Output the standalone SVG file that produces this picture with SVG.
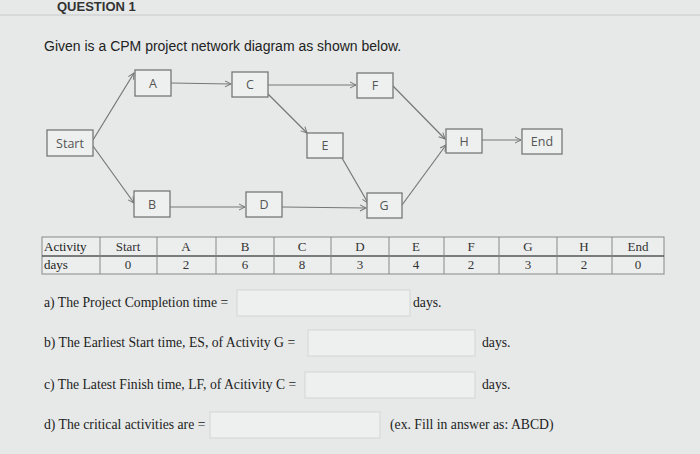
<svg xmlns="http://www.w3.org/2000/svg" width="700" height="454" viewBox="0 0 700 454">
<defs>
<style>
.n rect{fill:#eef0ef;stroke:#777;stroke-width:1.3}
.n text{font-family:"Open Sans","DejaVu Sans",sans-serif;font-size:12.5px;fill:#555;text-anchor:middle}
.c line{stroke:#777;stroke-width:1.2;marker-end:url(#ar)}
.s{font-family:"Liberation Serif",serif;font-size:13px;fill:#222}
.q{font-family:"Liberation Serif",serif;font-size:13.7px;fill:#222}
.t{font-family:"Liberation Serif",serif;font-size:13px;fill:#333;text-anchor:middle}
.box{fill:#eef0ef;stroke:#d4d6d5;stroke-width:1}
</style>
<marker id="ar" markerWidth="8" markerHeight="8" refX="7" refY="4" orient="auto" markerUnits="userSpaceOnUse"><path d="M1,1 L7,4 L1,7" fill="none" stroke="#777" stroke-width="1"/></marker>
</defs>
<rect width="700" height="454" fill="#e6e9e8"/>
<line x1="0" y1="15" x2="700" y2="15" stroke="#c8cac9"/>
<text x="57" y="11" font-family="Liberation Sans,sans-serif" font-size="13" font-weight="bold" fill="#333">QUESTION 1</text>
<text x="44" y="51" font-family="Liberation Sans,sans-serif" font-size="14" fill="#222">Given is a CPM project network diagram as shown below.</text>
<g class="c">
<line x1="93" y1="140" x2="134" y2="73"/>
<line x1="93" y1="146" x2="134" y2="203"/>
<line x1="171" y1="83" x2="231" y2="84"/>
<line x1="268" y1="85" x2="356" y2="85"/>
<line x1="268" y1="94" x2="307" y2="133"/>
<line x1="170" y1="207" x2="245" y2="207"/>
<line x1="282" y1="207" x2="366" y2="208"/>
<line x1="342" y1="158" x2="368" y2="203"/>
<line x1="393" y1="86" x2="445" y2="139"/>
<line x1="402" y1="205" x2="446" y2="145"/>
<line x1="482" y1="140" x2="521" y2="140"/>
</g>
<g id="start" class="n"><rect x="47" y="130" width="46" height="26"/><text x="70" y="148">Start</text></g>
<g id="A" class="n"><rect x="135" y="70" width="36" height="26"/><text x="153" y="88">A</text></g>
<g id="C" class="n"><rect x="232" y="72" width="36" height="25"/><text x="250" y="89">C</text></g>
<g id="F" class="n"><rect x="357" y="73" width="36" height="25"/><text x="375" y="90">F</text></g>
<g id="E" class="n"><rect x="307" y="133" width="36" height="25"/><text x="325" y="150">E</text></g>
<g id="H" class="n"><rect x="446" y="129" width="36" height="24"/><text x="464" y="146">H</text></g>
<g id="End" class="n"><rect x="522" y="129" width="40" height="25"/><text x="542" y="146">End</text></g>
<g id="B" class="n"><rect x="134" y="191" width="36" height="26"/><text x="152" y="209">B</text></g>
<g id="D" class="n"><rect x="246" y="192" width="36" height="25"/><text x="264" y="209">D</text></g>
<g id="G" class="n"><rect x="367" y="193" width="35" height="25"/><text x="384" y="210">G</text></g>
<g id="table">
<rect x="42" y="237" width="622" height="37" fill="#eceeed" stroke="#888"/>
<line x1="42" y1="256" x2="664" y2="256" stroke="#555" stroke-width="1.5"/>
<g stroke="#888">
<line x1="100" y1="237" x2="100" y2="274"/><line x1="157" y1="237" x2="157" y2="274"/><line x1="216" y1="237" x2="216" y2="274"/><line x1="274" y1="237" x2="274" y2="274"/><line x1="331" y1="237" x2="331" y2="274"/><line x1="389" y1="237" x2="389" y2="274"/><line x1="444" y1="237" x2="444" y2="274"/><line x1="499" y1="237" x2="499" y2="274"/><line x1="557" y1="237" x2="557" y2="274"/><line x1="612" y1="237" x2="612" y2="274"/>
</g>
<text x="44" y="251" class="s">Activity</text><text x="44" y="269" class="s">days</text>
<text class="t" y="251"><tspan x="128">Start</tspan><tspan x="186">A</tspan><tspan x="245">B</tspan><tspan x="302">C</tspan><tspan x="360">D</tspan><tspan x="416">E</tspan><tspan x="471">F</tspan><tspan x="528">G</tspan><tspan x="584">H</tspan><tspan x="638">End</tspan></text>
<text class="t" y="269"><tspan x="128">0</tspan><tspan x="186">2</tspan><tspan x="245">6</tspan><tspan x="302">8</tspan><tspan x="360">3</tspan><tspan x="416">4</tspan><tspan x="471">2</tspan><tspan x="528">3</tspan><tspan x="584">2</tspan><tspan x="638">0</tspan></text>
</g>
<rect class="box" x="237" y="290" width="173" height="26"/>
<rect class="box" x="308" y="330" width="167" height="26"/>
<rect class="box" x="305" y="372" width="170" height="26"/>
<rect class="box" x="210" y="412" width="170" height="26"/>
<text class="q" x="44" y="307">a) The Project Completion time =</text>
<text class="q" x="413" y="307">days.</text>
<text class="q" x="44" y="347">b) The Earliest Start time, ES, of Activity G =</text>
<text class="q" x="482" y="347">days.</text>
<text class="q" x="44" y="389">c) The Latest Finish time, LF, of Acitivity C =</text>
<text class="q" x="482" y="389">days.</text>
<text class="q" x="44" y="429">d) The critical activities are =</text>
<text class="q" x="390" y="429">(ex. Fill in answer as: ABCD)</text>
</svg>
